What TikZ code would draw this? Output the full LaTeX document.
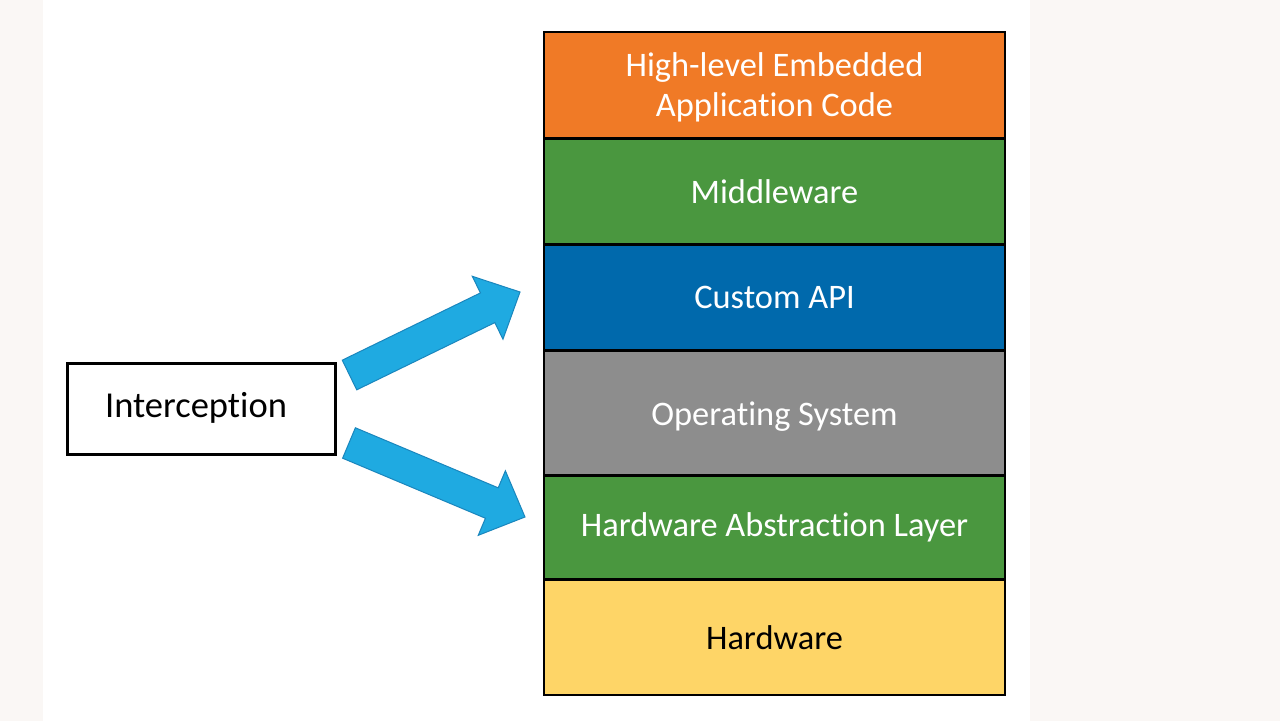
\documentclass[tikz,border=0pt]{standalone}
\usepackage{fontspec}
\setmainfont{Carlito}[Ligatures=NoCommon]
\usetikzlibrary{calc}
\definecolor{bgside}{HTML}{FAF7F5}
\definecolor{corange}{HTML}{F07A26}
\definecolor{cgreen}{HTML}{4A973F}
\definecolor{cblue}{HTML}{0069AC}
\definecolor{cgray}{HTML}{8D8D8D}
\definecolor{cyellow}{HTML}{FED567}
\definecolor{arrfill}{HTML}{1FAAE1}
\definecolor{arrline}{HTML}{1A86BD}
\tikzset{
  layer/.style={draw=black, line width=2pt, minimum width=461pt, inner sep=0pt, outer sep=0pt,
    text=white, font=\fontsize{34.4}{40}\selectfont, align=center},
  ibox/.style={draw=black, line width=3pt, minimum width=268pt, minimum height=91pt},
  itext/.style={font=\fontsize{36.5}{40}\selectfont, inner sep=0pt},
  barrow/.style={fill=arrfill, draw=arrline, line width=1pt, line join=miter}
}
\newcommand\blkarrow[2]{%
  \coordinate (#1b) at ($(#2)!36pt!(#1)$);
  \draw[barrow] ($(#1)!16.5pt!90:(#2)$) -- ($(#1b)!16.5pt!90:(#2)$) -- ($(#1b)!35pt!90:(#2)$)
    -- (#2) -- ($(#1b)!35pt!-90:(#2)$) -- ($(#1b)!16.5pt!-90:(#2)$) -- ($(#1)!16.5pt!-90:(#2)$) -- cycle;
}
\begin{document}
\begin{tikzpicture}[x=1pt,y=1pt]
\useasboundingbox (0,0) rectangle (1280,721);
\fill[bgside] (0,0) rectangle (1280,721);
\fill[white] (43,0) rectangle (1030,721);
% stack
\node[layer, fill=corange, minimum height=106pt, text=white, text depth=-4pt] (app) at (774.5,636) {High-level Embedded\\Application Code};
\node[layer, fill=cgreen, minimum height=105pt] (mw) at (774.5,529.5) {Middleware};
\node[layer, fill=cblue, minimum height=105pt] (api) at (774.5,423.5) {Custom API};
\node[layer, fill=cgray, minimum height=124pt] (os) at (774.5,308) {};
\node[text=white, font=\fontsize{34.4}{40}\selectfont] (ost) at ($(os.center)+(0,-4)$) {Operating System};
\node[layer, fill=cgreen, minimum height=103pt] (hal) at (774.5,193.5) {Hardware Abstraction Layer};
\node[layer, fill=cyellow, minimum height=115pt, text=black] (hw) at (774.5,83.5) {Hardware};
% interception
\node[ibox] (ic) at (201,311.5) {};
\node[itext] (ict) at ($(ic.center)+(-5,2)$) {Interception};
% arrows
\coordinate (ta) at (349.5,346);
\coordinate (ha) at (520,429);
\coordinate (tb) at (349,278);
\coordinate (hb) at (525,204);
\blkarrow{ta}{ha}
\blkarrow{tb}{hb}
\end{tikzpicture}
\end{document}
